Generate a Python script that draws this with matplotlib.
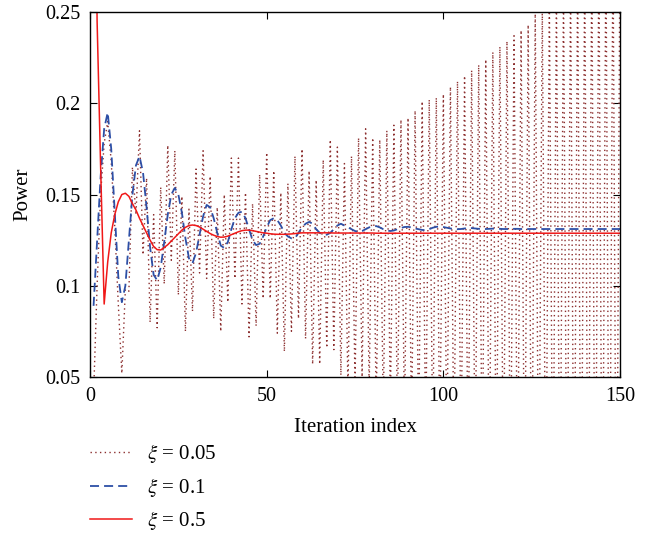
import matplotlib
matplotlib.use("Agg")
from matplotlib import pyplot as plt

# iteration index 1..150
iterations = list(range(1, 151))

# xi = 0.05 (dotted, oscillates every iteration, growing)
power_xi_005 = [
    0.040, 0.100, 0.150, 0.178, 0.190, 0.168, 0.132, 0.090, 0.052, 0.098,
    0.097, 0.165, 0.139, 0.185, 0.117, 0.159, 0.080, 0.139, 0.077, 0.154,
    0.101, 0.177, 0.114, 0.174, 0.095, 0.149, 0.075, 0.142, 0.086, 0.164,
    0.107, 0.174, 0.104, 0.160, 0.082, 0.143, 0.075, 0.150, 0.091, 0.170,
    0.104, 0.170, 0.090, 0.151, 0.072, 0.145, 0.078, 0.161, 0.093, 0.173,
    0.093, 0.163, 0.074, 0.151, 0.064, 0.156, 0.075, 0.171, 0.082, 0.175,
    0.071, 0.163, 0.057, 0.158, 0.057, 0.169, 0.066, 0.180, 0.065, 0.176,
    0.051, 0.167, 0.042, 0.171, 0.046, 0.181, 0.050, 0.186, 0.043, 0.181,
    0.032, 0.180, 0.030, 0.185, 0.034, 0.188, 0.027, 0.191, 0.025, 0.192,
    0.022, 0.196, 0.017, 0.201, 0.015, 0.202, 0.013, 0.203, 0.012, 0.205,
    0.009, 0.209, 0.006, 0.212, 0.003, 0.215, 0.000, 0.218, -0.003, 0.221,
    -0.006, 0.224, -0.010, 0.228, -0.013, 0.231, -0.016, 0.234, -0.019, 0.237,
    -0.022, 0.240, -0.025, 0.243, -0.030, 0.249, -0.035, 0.253, -0.039, 0.257,
    -0.043, 0.261, -0.047, 0.265, -0.051, 0.269, -0.055, 0.273, -0.059, 0.277,
    -0.063, 0.281, -0.067, 0.285, -0.071, 0.289, -0.075, 0.293, -0.079, 0.297,
]

# xi = 0.1 (dashed blue)
power_xi_01 = [
    0.089, 0.125, 0.160, 0.186, 0.195, 0.175, 0.140, 0.105, 0.091, 0.100,
    0.125, 0.150, 0.166, 0.171, 0.162, 0.143, 0.121, 0.106, 0.103, 0.110,
    0.124, 0.139, 0.150, 0.1536, 0.150, 0.140, 0.126, 0.115, 0.1124, 0.118,
    0.128, 0.138, 0.1443, 0.143, 0.137, 0.129, 0.122, 0.1207, 0.124, 0.131,
    0.137, 0.140, 0.1406, 0.137, 0.131, 0.125, 0.1223, 0.123, 0.127, 0.132,
    0.136, 0.137, 0.136, 0.133, 0.129, 0.127, 0.126, 0.126, 0.129, 0.132,
    0.134, 0.135, 0.134, 0.131, 0.129, 0.128, 0.128, 0.129, 0.131, 0.133,
    0.134, 0.133, 0.132, 0.131, 0.130, 0.1295, 0.130, 0.131, 0.132, 0.1325,
    0.1327, 0.132, 0.131, 0.1303, 0.130, 0.1303, 0.131, 0.1317, 0.1322, 0.1323,
    0.132, 0.1314, 0.131, 0.1306, 0.1305, 0.131, 0.1318, 0.1323, 0.1325, 0.1322,
    0.1318, 0.1314, 0.1311, 0.1310, 0.1311, 0.1314, 0.1316, 0.1316, 0.1314, 0.1312,
    0.1311, 0.1311, 0.1312, 0.1313, 0.1313, 0.1312, 0.1311, 0.1311, 0.1311, 0.1312,
    0.1312, 0.1311, 0.1311, 0.1311, 0.1311, 0.1311, 0.1311, 0.1311, 0.1311, 0.1311,
    0.1311, 0.1311, 0.1311, 0.1311, 0.1311, 0.1311, 0.1311, 0.1311, 0.1311, 0.1311,
    0.1311, 0.1311, 0.1311, 0.1311, 0.1311, 0.1311, 0.1311, 0.1311, 0.1311, 0.1311,
]

# xi = 0.5 (solid red)
power_xi_05 = [
    0.420, 0.245, 0.165, 0.090, 0.113, 0.129, 0.139, 0.146, 0.150, 0.1507,
    0.149, 0.145, 0.1415, 0.137, 0.133, 0.129, 0.125, 0.1215, 0.1198, 0.1196,
    0.121, 0.1225, 0.1245, 0.1265, 0.1285, 0.1305, 0.132, 0.133, 0.1333, 0.133,
    0.1322, 0.131, 0.1298, 0.1286, 0.1277, 0.127, 0.1266, 0.1267, 0.1272, 0.128,
    0.1288, 0.1296, 0.1302, 0.1305, 0.1305, 0.1302, 0.1298, 0.1294, 0.129, 0.1288,
    0.1285, 0.1283, 0.1282, 0.1282, 0.1282, 0.1283, 0.1284, 0.1286, 0.1288, 0.129,
    0.129, 0.129, 0.129, 0.129, 0.129, 0.129, 0.129, 0.129, 0.1289, 0.1289,
    0.1289, 0.1289, 0.1289, 0.1289, 0.1289, 0.1289, 0.1289, 0.1289, 0.1289, 0.1289,
    0.1288, 0.1288, 0.1288, 0.1288, 0.1288, 0.1288, 0.1288, 0.1288, 0.1288, 0.1288,
    0.1288, 0.1288, 0.1288, 0.1288, 0.1288, 0.1288, 0.1288, 0.1288, 0.1288, 0.1288,
    0.1288, 0.1288, 0.1288, 0.1288, 0.1288, 0.1288, 0.1288, 0.1288, 0.1288, 0.1288,
    0.1288, 0.1288, 0.1288, 0.1288, 0.1288, 0.1288, 0.1288, 0.1288, 0.1288, 0.1288,
    0.1288, 0.1288, 0.1288, 0.1288, 0.1288, 0.1288, 0.1288, 0.1288, 0.1288, 0.1288,
    0.1288, 0.1288, 0.1288, 0.1288, 0.1288, 0.1288, 0.1288, 0.1288, 0.1288, 0.1288,
    0.1288, 0.1288, 0.1288, 0.1288, 0.1288, 0.1288, 0.1288, 0.1288, 0.1288, 0.1288,
]

series_labels = [r"$\xi$ = 0.05", r"$\xi$ = 0.1", r"$\xi$ = 0.5"]
x_ticks = [0, 50, 100, 150]
y_ticks = [0.05, 0.1, 0.15, 0.2, 0.25]
y_tick_labels = ["0.05", "0.1", "0.15", "0.2", "0.25"]


def main():
    plt.rcParams["font.family"] = ["Liberation Serif", "DejaVu Serif"]
    plt.rcParams["mathtext.fontset"] = "stix"
    plt.rcParams["font.size"] = 15

    fig = plt.figure(figsize=(6.62, 5.42), dpi=100)
    ax = fig.add_axes([0.136, 0.3044, 0.8006, 0.6734])

    l1, = ax.plot(iterations, power_xi_005, color="#8c2f2f",
                  linestyle=(0, (1, 2.4)), linewidth=1.0)
    l2, = ax.plot(iterations, power_xi_01, color="#2d4fa6",
                  linestyle=(0, (5.0, 2.8)), linewidth=1.3)
    l3, = ax.plot(iterations, power_xi_05, color="#f01818",
                  linestyle="-", linewidth=1.1)

    ax.set_xlim(0, 150)
    ax.set_ylim(0.05, 0.25)
    ax.set_xticks(x_ticks)
    ax.set_yticks(y_ticks)
    ax.set_yticklabels(y_tick_labels)
    ax.tick_params(direction="in", top=True, right=True, length=5,
                   width=0.8, labelsize=14.5)
    ax.tick_params(axis="x", pad=7)
    ax.tick_params(axis="y", pad=7)
    for sp in ax.spines.values():
        sp.set_linewidth(1.0)

    ax.set_xlabel("Iteration index", fontsize=15, labelpad=9)
    ax.set_ylabel("Power", fontsize=15, labelpad=9)

    fig.legend([l1, l2, l3], series_labels, loc="upper left",
               bbox_to_anchor=(0.124, 0.199), frameon=False, fontsize=15,
               handlelength=2.0, handletextpad=0.7, labelspacing=0.5,
               borderaxespad=0.0)

    fig.savefig("out.png", dpi=100)


if __name__ == "__main__":
    main()
